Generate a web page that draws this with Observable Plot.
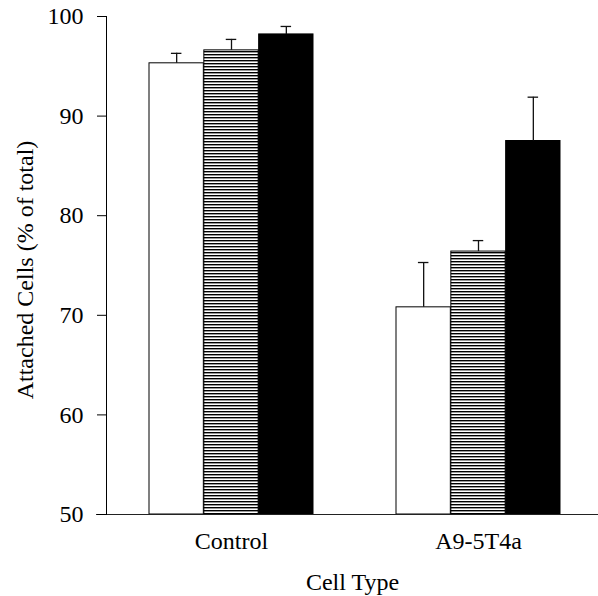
<!DOCTYPE html>
<html>
<head>
<meta charset="utf-8">
<script src="https://cdn.jsdelivr.net/npm/d3@7"></script>
<script src="https://cdn.jsdelivr.net/npm/@observablehq/plot@0.6"></script>
<style>
  html, body { margin: 0; padding: 0; background: #fff; }
  #chart svg { display: block; }
</style>
</head>
<body>
<svg width="0" height="0" style="position:absolute">
  <defs>
    <pattern id="hstripes" patternUnits="userSpaceOnUse" width="8" height="3">
      <rect x="0" y="0" width="8" height="3" fill="#fff"></rect>
      <rect x="0" y="0" width="8" height="1.4" fill="#000"></rect>
    </pattern>
  </defs>
</svg>
<div id="chart"></div>
<script>
// Data
const cellTypes = ["Control", "A9-5T4a"];
const treatments = ["open", "striped", "solid"];
const meanOpen    = [95.3, 70.8];
const meanStriped = [96.6, 76.4];
const meanSolid   = [98.2, 87.5];
const errOpen     = [1.0, 4.5];
const errStriped  = [1.1, 1.1];
const errSolid    = [0.8, 4.4];
const yTicks = [50, 60, 70, 80, 90, 100];
const yLabel = "Attached Cells (% of total)";
const xLabel = "Cell Type";

const means = {open: meanOpen, striped: meanStriped, solid: meanSolid};
const errs = {open: errOpen, striped: errStriped, solid: errSolid};
const fills = {open: "#fff", striped: "url(#hstripes)", solid: "#000"};

const rows = treatments.map(t => cellTypes.map((c, i) => ({
  cell: c, treat: t, value: means[t][i], hi: means[t][i] + errs[t][i]
})));

const groupW = 164.5;           // width of a cluster of three bars
const bw = groupW / 3;          // width of one bar
const capW = 11;

const marks = [];
treatments.forEach((t, k) => {
  const data = rows[k];
  const left = k * bw, right = (2 - k) * bw;
  marks.push(Plot.barY(data, {
    x: "cell", y1: 50, y2: "value",
    insetLeft: left, insetRight: right,
    fill: fills[t], stroke: "#000", strokeWidth: 1
  }));
  marks.push(Plot.ruleX(data, {
    x: "cell", y1: "value", y2: "hi", dx: (k - 1) * bw,
    stroke: "#111", strokeWidth: 1.3
  }));
  marks.push(Plot.tickY(data, {
    x: "cell", y: "hi",
    insetLeft: left + (bw - capW) / 2, insetRight: right + (bw - capW) / 2,
    stroke: "#111", strokeWidth: 1.3
  }));
});

const plot = Plot.plot({
  width: 598,
  height: 596,
  marginLeft: 106,
  marginRight: 0,
  marginTop: 16,
  marginBottom: 82,
  style: {fontFamily: "'Liberation Serif', 'Times New Roman', serif", fontSize: "24px", color: "#000", background: "#fff"},
  x: {domain: cellTypes, paddingInner: 0.336, paddingOuter: 0.161, align: 0.53},
  y: {domain: [50, 100]},
  marks: [
    ...marks,
    Plot.ruleY([50], {insetLeft: -10, stroke: "#222", strokeWidth: 1.2}),
    Plot.frame({anchor: "left", stroke: "#000"}),
    Plot.axisY({ticks: yTicks, tickSize: 9, tickPadding: 14, label: null, tickFormat: d => String(d)}),
    Plot.axisX({tickSize: 0, tickPadding: 17, label: null}),
    Plot.text([yLabel], {frameAnchor: "left", textAnchor: "middle", lineAnchor: "middle", rotate: -90, dx: -80.7, dy: 4.5, fontSize: 24}),
    Plot.text([xLabel], {frameAnchor: "bottom", textAnchor: "middle", lineAnchor: "middle", dy: 68, fontSize: 24})
  ]
});
document.getElementById("chart").appendChild(plot);
</script>
</body>
</html>
